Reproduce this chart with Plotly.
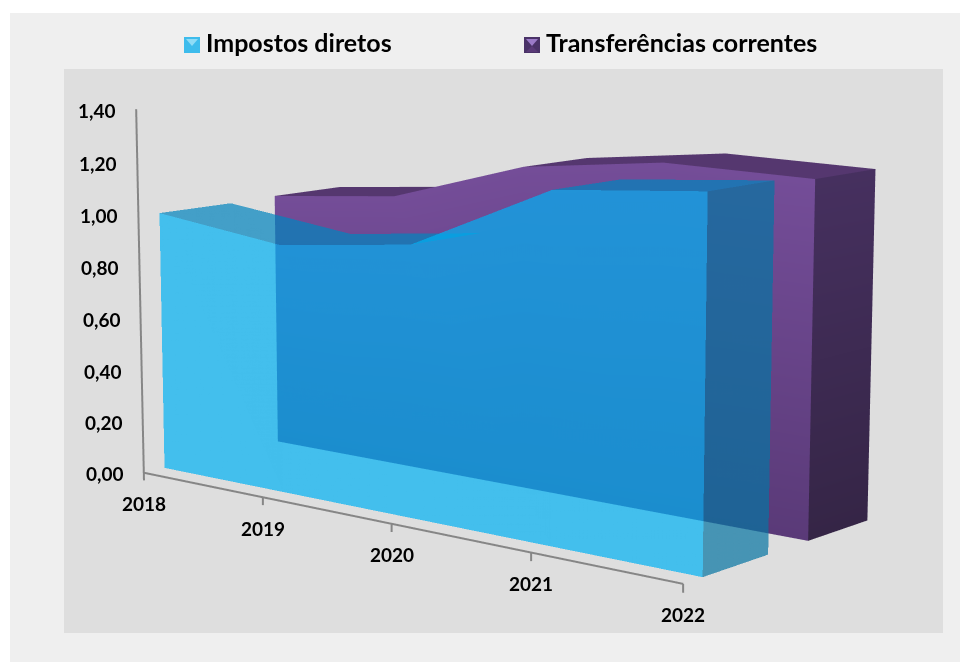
import math
import plotly.graph_objects as go

years = [2018, 2019, 2020, 2021, 2022]
impostos = [0.995, 0.93, 0.99, 1.235, 1.28]
transfer = [1.00, 1.05, 1.21, 1.272, 1.262]
y_ticks = [0.0, 0.2, 0.4, 0.6, 0.8, 1.0, 1.2, 1.4]
y_labels = ["0,00", "0,20", "0,40", "0,60", "0,80", "1,00", "1,20", "1,40"]
blue_depth = (0.10, 0.45)
purple_depth = (0.675, 1.025)
FONT = "Lato"

# Plotly's perspective camera has a fixed field of view, so the flat long-lens look of the
# original needs a large canvas; the page window is positioned over its middle.
S = 2300
WIN_CX, WIN_CY = 490, 310          # where the scene centre lands in the 960x662 window
LEFT, TOP = WIN_CX - S / 2, WIN_CY - S / 2


def fx(px):
    return (px - LEFT) / S


def fy(py):
    return 1 - (py - TOP) / S


def strip_mesh(xs, ys, zs, opacity, name, color=None, vcolors=None):
    n = len(xs) // 2
    i, j, k = [], [], []
    for a in range(n - 1):
        i += [a, a + 1]
        j += [a + 1, n + a + 1]
        k += [n + a, n + a]
    kw = dict(vertexcolor=vcolors) if vcolors else dict(color=color)
    return go.Mesh3d(x=xs, y=ys, z=zs, i=i, j=j, k=k, opacity=opacity, flatshading=False,
                     hoverinfo="skip", name=name, showscale=False,
                     lighting=dict(ambient=1, diffuse=0, specular=0, roughness=1, fresnel=0),
                     showlegend=False, **kw)


def body(vals, depth, front, top, side, opacity, name, rise_limit):
    d0, d1 = depth
    out = []
    n = len(years)
    out.append(strip_mesh([years[-1]] * 4, [d0, d1, d0, d1], [0, 0, vals[-1], vals[-1]], opacity, name,
                          vcolors=[side[0], side[0], side[1], side[1]]))
    for a in range(n - 1):
        if vals[a + 1] - vals[a] <= rise_limit:
            out.append(strip_mesh([years[a], years[a + 1]] * 2, [d0, d0, d1, d1],
                                  [vals[a], vals[a + 1]] * 2, opacity, name, color=top))
    out.append(strip_mesh(years + years, [d0] * (2 * n), [0] * n + vals, opacity, name,
                          vcolors=[front[0]] * n + [front[1]] * n))
    return out


fig = go.Figure()
for t in body(transfer, purple_depth, ("#5A3A78", "#744D98"), "#55376F", ("#352546", "#46305F"), 1,
              "Transferências correntes", 9):
    fig.add_trace(t)
for t in body(impostos, blue_depth, ("rgb(0,177,243)", "rgb(0,177,243)"), "rgb(0,132,190)",
              ("rgb(5,116,162)", "rgb(5,116,162)"), 0.7, "Impostos diretos", 0.1):
    fig.add_trace(t)

# axes
LINE = dict(color="#868686", width=4)
fig.add_trace(go.Scatter3d(x=[years[0], years[0], years[-1]], y=[0, 0, 0], z=[y_ticks[-1], 0, 0], mode="lines",
                           line=LINE, hoverinfo="skip", showlegend=False))
tx, ty, tz = [], [], []
for yr in years:
    tx += [yr, yr, None]
    ty += [0, 0, None]
    tz += [0, -0.03, None]
fig.add_trace(go.Scatter3d(x=tx, y=ty, z=tz, mode="lines", line=LINE, hoverinfo="skip", showlegend=False))

tick_font = dict(family=FONT, size=19, color="#000000", weight=700)
scene_ann = []
for v, lab in zip(y_ticks, y_labels):
    scene_ann.append(dict(x=years[0], y=0, z=v, text=lab, showarrow=False, xanchor="right", yanchor="middle",
                          xshift=-18, yshift=-1, font=tick_font))
for yr in years:
    scene_ann.append(dict(x=yr, y=0, z=0, text=str(yr), showarrow=False, xanchor="center", yanchor="middle",
                          xshift=0, yshift=-31, font=tick_font))

sin_t, cos_t = math.sin(math.radians(39.7)), math.cos(math.radians(39.7))
sin_p, cos_p = math.sin(math.radians(9.5)), math.cos(math.radians(9.5))
DIST = 4.0
legend_font = dict(family=FONT, size=25, color="#000000", weight=700)


def rect(x0, x1, y0, y1, color):
    return dict(type="rect", xref="paper", yref="paper", x0=fx(x0), x1=fx(x1), y0=fy(y1), y1=fy(y0),
                fillcolor=color, line_width=0, layer="below")


def swatch(x0, y0, base, light, dark):
    size = 16
    cx, cy = x0 + size / 2, y0 + size / 2
    def tri(pts, color):
        path = "M " + " L ".join(f"{fx(a)} {fy(b)}" for a, b in pts) + " Z"
        return dict(type="path", path=path, xref="paper", yref="paper", fillcolor=color, line_width=0, layer="below")
    return [
        rect(x0, x0 + size, y0, y0 + size, base),
        tri([(x0 + 2, y0 + 2), (x0 + size - 2, y0 + 2), (cx, cy + 1)], light),
        tri([(x0 + 2, y0 + size - 1), (x0 + size - 2, y0 + size - 1), (cx, cy + 1)], dark),
    ]


fig.update_layout(
    width=S, height=S, margin=dict(l=0, r=0, t=0, b=0), paper_bgcolor="#ffffff", showlegend=False,
    shapes=[
        rect(10, 2000, 13, 2000, "#EFEFEF"),
        rect(64, 943, 69, 633, "#DEDEDE"),
    ] + swatch(184, 37, "#3EBCEC", "#8FDCF6", "#3EBCEC") + swatch(524, 37, "#4A3268", "#9B7AC8", "#5A3A78"),
    annotations=[
        dict(text="Impostos diretos", x=fx(204), y=fy(42.5), xref="paper", yref="paper", xanchor="left",
             yanchor="middle", showarrow=False, font=legend_font),
        dict(text="Transferências correntes", x=fx(544), y=fy(42.5), xref="paper", yref="paper", xanchor="left",
             yanchor="middle", showarrow=False, font=legend_font),
    ],
    scene=dict(
        domain=dict(x=[0, 1], y=[0, 1]),
        bgcolor="rgba(0,0,0,0)",
        aspectmode="manual",
        aspectratio=dict(x=1.053, y=0.474, z=0.590),
        camera=dict(eye=dict(x=DIST * sin_t * cos_p, y=-DIST * cos_t * cos_p, z=DIST * sin_p),
                    center=dict(x=0, y=0, z=0), up=dict(x=0, y=0, z=1),
                    projection=dict(type="perspective")),
        xaxis=dict(visible=False, range=[2017.9, 2022.1]),
        yaxis=dict(visible=False, range=[-0.05, 1.05]),
        zaxis=dict(visible=False, range=[-0.05, 1.45]),
        annotations=scene_ann,
    ),
)
post = (
    "var d=document.querySelector('.plotly-graph-div');d.style.position='fixed';"
    f"d.style.left='{LEFT}px';d.style.top='{TOP}px';"
    "document.body.style.margin='0';document.body.style.overflow='hidden';"
    "document.documentElement.style.overflow='hidden';"
)
fig.write_html("out.html", post_script=post, config=dict(displayModeBar=False))
